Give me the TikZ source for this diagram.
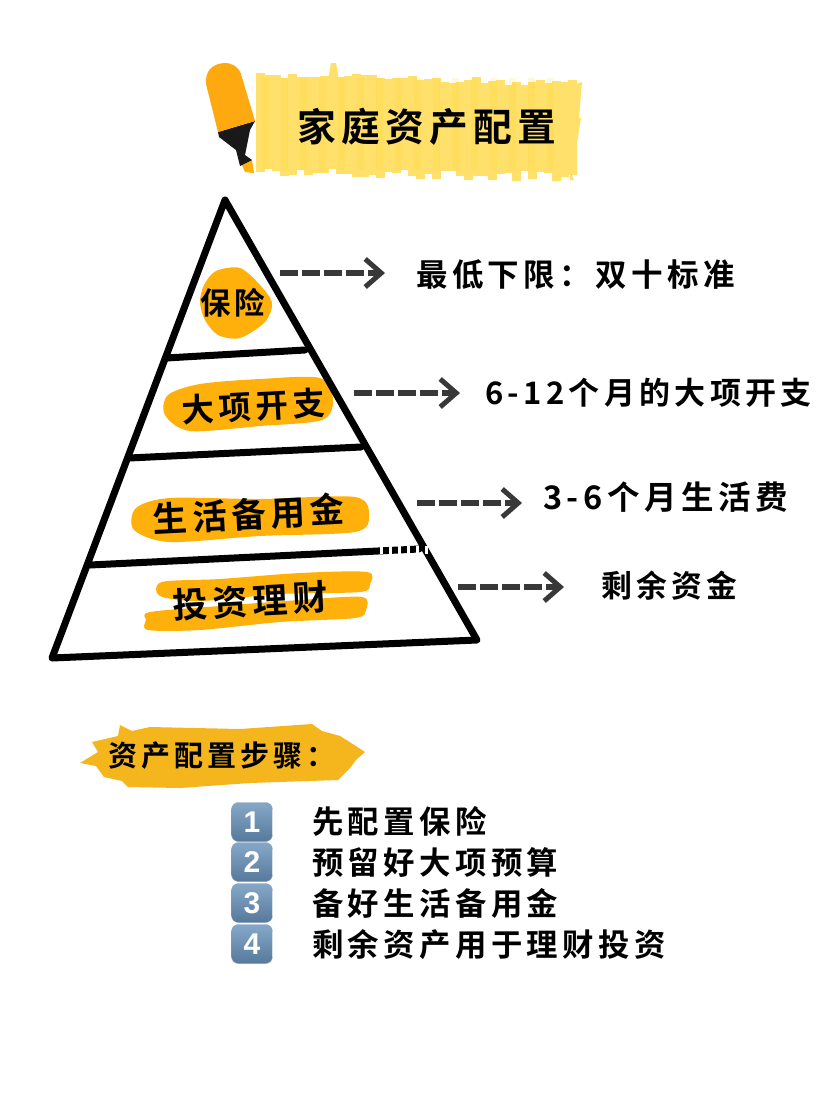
\documentclass[tikz,border=0pt]{standalone}
\usepackage{fontspec}
\usepackage{xcolor}
\usetikzlibrary{arrows.meta}
\newfontfamily\cjk[LetterSpace=14,BoldFont={Noto Sans CJK SC Bold}]{Noto Sans CJK SC}
\newfontfamily\tilefont{Liberation Sans}
\definecolor{brushorange}{HTML}{FFB00A}
\definecolor{brushyellow}{HTML}{FFE06A}
\definecolor{brushdeep}{HTML}{F4B61C}
\definecolor{penbody}{HTML}{FDA90F}
\definecolor{tiletop}{HTML}{86A8C8}
\definecolor{tilebot}{HTML}{56799C}
\tikzset{
  zi/.style={inner sep=0pt, anchor=west, font=\cjk\bfseries\fontsize{#1}{#1}\selectfont},
  ceng/.style={line width=7pt, line cap=round, line join=round},
  dasharrow/.style={draw=black!78, line width=5.5pt, dash pattern=on 18pt off 4pt,
    -{Straight Barb[length=16pt,width=28pt,line width=5pt]}},
  tile/.style={inner sep=0pt, minimum width=41pt, minimum height=39pt, rounded corners=7pt,
    top color=tiletop, bottom color=tilebot, draw=tilebot!70,
    text=white, font=\tilefont\bfseries\fontsize{30}{30}\selectfont},
}
\begin{document}
\begin{tikzpicture}[x=1pt,y=-1pt]
  \useasboundingbox (0,0) rectangle (828,1104);
  \fill[white] (0,0) rectangle (828,1104);

  % faixa do titulo
  \pgfmathsetseed{7}
  \foreach \x in {256,264,...,568} {
    \pgfmathsetmacro\ytop{74+(\x-256)*0.03+rand*4}
    \pgfmathsetmacro\ybot{171+(\x-256)*0.02+rand*5}
    \fill[brushyellow] (\x,\ytop) rectangle (\x+8.5,\ybot);
  }
  \fill[brushyellow] (328,80) -- (331,63) -- (336,63) -- (339,80) -- cycle;
  \fill[brushyellow] (575,84) -- (582,82) -- (579,118) -- (581,118) -- (572,176) -- (574,180) -- (570,180) -- cycle;
  \foreach \x in {262,281,...,565} {
    \fill[orange!40!yellow, opacity=.12] (\x,78) rectangle (\x+7,170);
  }

  % marcador
  \fill[brushorange] (241,163) -- (252,160) -- (254,173) -- (245,172) -- cycle;
  \fill[black!90] (218,132) -- (255,121) -- (250,130) -- (245,155) -- (252,160) -- (240,166) -- (236,150) -- (219,137) -- cycle;
  \fill[penbody] (218,132) -- (206,84) .. controls (205,71) and (212,64) .. (224,63)
    .. controls (232,63) and (238,66) .. (241,74) -- (255,121) -- cycle;

  % manchas
  \fill[brushorange] plot[smooth cycle] coordinates {(204,285) (216,271) (240,268) (260,285) (272,303) (265,322) (240,338) (218,335) (205,320) (200,302)};
  \fill[brushorange] plot[smooth cycle] coordinates {(168,395) (200,384) (260,379) (320,378) (333,400) (322,420) (260,426) (190,431) (165,415)};
  \fill[brushorange] plot[smooth cycle] coordinates {(136,508) (170,498) (260,499) (355,497) (369,516) (355,532) (260,536) (170,542) (134,530)};
  \fill[brushorange] plot[smooth cycle] coordinates {(162,582) (220,579) (300,573) (367,572) (370,584) (360,592) (280,594) (200,601) (160,596)};
  \fill[brushorange] plot[smooth cycle] coordinates {(150,612) (220,606) (300,600) (362,597) (366,610) (355,618) (280,622) (200,630) (148,630) (146,620)};

  % piramide
  \coordinate (topo) at (225,200);
  \coordinate (esq) at (52,658);
  \coordinate (dir) at (477,640);
  \coordinate (a1) at (166,358);
  \coordinate (b1) at (305,350);
  \coordinate (a2) at (129,458);
  \coordinate (b2) at (361,447);
  \coordinate (a3) at (90,565);
  \coordinate (b3) at (419,549);
  \draw[ceng] (topo) -- (esq) -- (dir) -- cycle;
  \draw[ceng] (a1) -- (b1);
  \draw[ceng] (a2) -- (b2);
  \draw[ceng] (a3) -- (b3);
  \draw[white, line width=8pt, dash pattern=on 3pt off 6pt] (380,550) -- (436,550);

  % titulo e camadas
  \node[zi=38.7] (titulo) at (297,127) {家庭资产配置};
  \node[zi=30.5] (seguro) at (200,303) {保险};
  \node[zi=32.5, rotate=3] (grande) at (182,410) {大项开支};
  \node[zi=34.5, rotate=3] (reserva) at (153,519) {生活备用金};
  \node[zi=35, rotate=3] (investe) at (173,605) {投资理财};

  % setas
  \coordinate (s1) at (280,273);
  \coordinate (e1) at (385,273);
  \coordinate (s2) at (354,393);
  \coordinate (e2) at (460,393);
  \coordinate (s3) at (417,503);
  \coordinate (e3) at (522,503);
  \coordinate (s4) at (458,587);
  \coordinate (e4) at (564,587);
  \draw[dasharrow] (s1) -- (e1);
  \draw[dasharrow] (s2) -- (e2);
  \draw[dasharrow] (s3) -- (e3);
  \draw[dasharrow] (s4) -- (e4);

  \node[zi=31.5] (nota1) at (416,275) {最低下限：双十标准};
  \node[zi=31] (nota2) at (485,393) {6-12个月的大项开支};
  \node[zi=32.5] (nota3) at (543,497) {3-6个月生活费};
  \node[zi=30.8] (nota4) at (601,586) {剩余资金};

  % passos
  \fill[brushdeep] (80,763) -- (98,752) -- (92,742) -- (118,736) -- (120,725) -- (132,731) -- (150,727) -- (240,729) -- (312,724) -- (322,731) -- (340,736) -- (348,741) -- (365,752)
    -- (356,760) -- (350,768) -- (338,780) -- (250,783) -- (180,788) -- (128,787) -- (122,781) -- (104,777) -- (96,766) -- cycle;
  \node[zi=29] (passos) at (108,756) {资产配置步骤：};

  \node[tile] (n1) at (252,822) {1};
  \node[tile] (n2) at (252,862) {2};
  \node[tile] (n3) at (252,903) {3};
  \node[tile] (n4) at (252,944) {4};

  \node[zi=31.4] (p1) at (312,821) {先配置保险};
  \node[zi=31.4] (p2) at (312,862) {预留好大项预算};
  \node[zi=31.4] (p3) at (312,903) {备好生活备用金};
  \node[zi=31.4] (p4) at (312,945) {剩余资产用于理财投资};
\end{tikzpicture}
\end{document}
